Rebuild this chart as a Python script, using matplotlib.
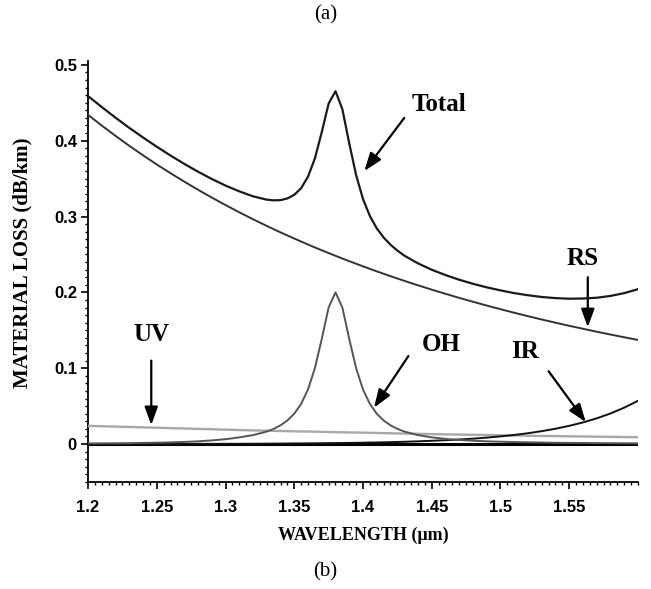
import matplotlib
matplotlib.use("Agg")
import matplotlib.pyplot as plt
from matplotlib.ticker import MultipleLocator, FixedLocator

# ---- data ----
wavelength = [1.20, 1.21, 1.22, 1.23, 1.24, 1.25, 1.26, 1.27, 1.28, 1.29, 1.30,
              1.31, 1.32, 1.33, 1.335, 1.34, 1.345, 1.35, 1.355, 1.36, 1.365,
              1.37, 1.375, 1.38, 1.385, 1.39, 1.395, 1.40, 1.405, 1.41, 1.415,
              1.42, 1.425, 1.43, 1.44, 1.45, 1.46, 1.47, 1.48, 1.49, 1.50, 1.51,
              1.52, 1.53, 1.54, 1.55, 1.56, 1.57, 1.58, 1.59, 1.60]
rs_loss = [0.4340, 0.4199, 0.4063, 0.3932, 0.3807, 0.3686, 0.3571, 0.3460, 0.3353,
           0.3250, 0.3151, 0.3056, 0.2964, 0.2876, 0.2833, 0.2791, 0.2750, 0.2710,
           0.2670, 0.2631, 0.2592, 0.2555, 0.2518, 0.2482, 0.2446, 0.2411, 0.2377,
           0.2343, 0.2310, 0.2277, 0.2245, 0.2214, 0.2183, 0.2152, 0.2093, 0.2036,
           0.1981, 0.1927, 0.1876, 0.1826, 0.1778, 0.1731, 0.1686, 0.1642, 0.1600,
           0.1559, 0.1520, 0.1481, 0.1444, 0.1408, 0.1373]
oh_loss = [0.0008, 0.0009, 0.0010, 0.0012, 0.0015, 0.0018, 0.0022, 0.0028, 0.0036,
           0.0048, 0.0064, 0.0088, 0.0118, 0.0165, 0.0200, 0.0247, 0.0311, 0.0400,
           0.0529, 0.0720, 0.1000, 0.1385, 0.1800, 0.2000, 0.1800, 0.1385, 0.1000,
           0.0720, 0.0529, 0.0400, 0.0311, 0.0247, 0.0200, 0.0165, 0.0118, 0.0088,
           0.0068, 0.0054, 0.0044, 0.0036, 0.0031, 0.0026, 0.0023, 0.0020, 0.0017,
           0.0015, 0.0014, 0.0012, 0.0011, 0.0010, 0.0009]
ir_loss = [0.0, 0.0, 0.0, 0.0, 0.0, 0.0001, 0.0001, 0.0001, 0.0002, 0.0002, 0.0003,
           0.0003, 0.0004, 0.0005, 0.0006, 0.0006, 0.0007, 0.0008, 0.0008, 0.0009,
           0.0010, 0.0011, 0.0012, 0.0013, 0.0014, 0.0015, 0.0016, 0.0018, 0.0020,
           0.0021, 0.0023, 0.0025, 0.0028, 0.0030, 0.0036, 0.0043, 0.0051, 0.0060,
           0.0071, 0.0085, 0.0101, 0.0120, 0.0143, 0.0170, 0.0202, 0.0240, 0.0285,
           0.0339, 0.0403, 0.0480, 0.0570]
uv_loss = [0.0240, 0.0235, 0.0230, 0.0225, 0.0220, 0.0215, 0.0210, 0.0205, 0.0200,
           0.0195, 0.0190, 0.0185, 0.0180, 0.0176, 0.0174, 0.0172, 0.0170, 0.0168,
           0.0166, 0.0165, 0.0163, 0.0161, 0.0159, 0.0157, 0.0155, 0.0153, 0.0152,
           0.0150, 0.0148, 0.0146, 0.0144, 0.0142, 0.0140, 0.0138, 0.0135, 0.0131,
           0.0128, 0.0125, 0.0122, 0.0119, 0.0116, 0.0113, 0.0110, 0.0107, 0.0105,
           0.0102, 0.0100, 0.0097, 0.0095, 0.0092, 0.0090]
total_loss = [0.4588, 0.4443, 0.4303, 0.4169, 0.4042, 0.3920, 0.3804, 0.3694,
              0.3591, 0.3495, 0.3408, 0.3332, 0.3266, 0.3222, 0.3213, 0.3216,
              0.3238, 0.3286, 0.3373, 0.3525, 0.3765, 0.4112, 0.4489, 0.4652,
              0.4415, 0.3964, 0.3545, 0.3231, 0.3007, 0.2844, 0.2723, 0.2628,
              0.2551, 0.2485, 0.2382, 0.2298, 0.2228, 0.2166, 0.2113, 0.2066,
              0.2026, 0.1990, 0.1962, 0.1939, 0.1924, 0.1916, 0.1919, 0.1929,
              0.1953, 0.1990, 0.2042]

x_ticks = [1.2, 1.25, 1.3, 1.35, 1.4, 1.45, 1.5, 1.55]
x_tick_labels = ["1.2", "1.25", "1.3", "1.35", "1.4", "1.45", "1.5", "1.55"]
y_ticks = [0, 0.1, 0.2, 0.3, 0.4, 0.5]
y_tick_labels = ["0", "0.1", "0.2", "0.3", "0.4", "0.5"]

# annotations: label, text position, arrow start, arrow tip (data coords)
annotations = [
    ("Total", (1.455, 0.448), (1.430, 0.430), (1.401, 0.360)),
    ("RS", (1.560, 0.245), (1.5635, 0.220), (1.5635, 0.154)),
    ("OH", (1.457, 0.131), (1.433, 0.116), (1.408, 0.048)),
    ("IR", (1.518, 0.122), (1.535, 0.096), (1.562, 0.029)),
    ("UV", (1.246, 0.145), (1.246, 0.110), (1.246, 0.025)),
]

# ---- figure ----
fig = plt.figure(figsize=(6.51, 5.89), dpi=100)
ax = fig.add_axes([0.1352, 0.1817, 0.8448, 0.7147])

serif = ["Liberation Serif", "DejaVu Serif"]
sans = ["Liberation Sans", "DejaVu Sans"]

ax.axhline(0, color="black", lw=2.2, zorder=2)
ax.plot(wavelength, uv_loss, color="#a8a8a8", lw=1.7, zorder=3)
ax.plot(wavelength, ir_loss, color="#111111", lw=1.4, zorder=3)
ax.plot(wavelength, oh_loss, color="#555555", lw=1.4, zorder=4)
ax.plot(wavelength, rs_loss, color="#333333", lw=1.4, zorder=4)
ax.plot(wavelength, total_loss, color="#1a1a1a", lw=1.6, zorder=5)

for label, tpos, start, tip in annotations:
    ax.text(tpos[0], tpos[1], label, fontfamily=serif, fontweight="bold",
            fontsize=18, ha="center", va="center")
    ax.annotate("", xy=tip, xytext=start,
                arrowprops=dict(arrowstyle="-|>,head_length=1.1,head_width=0.4",
                                color="black", lw=1.6, shrinkA=0, shrinkB=0))

ax.set_xlim(1.2, 1.6)
ax.set_ylim(-0.05, 0.505)

ax.xaxis.set_major_locator(FixedLocator(x_ticks))
ax.set_xticklabels(x_tick_labels)
ax.xaxis.set_minor_locator(MultipleLocator(0.005))
ax.yaxis.set_major_locator(FixedLocator(y_ticks))
ax.set_yticklabels(y_tick_labels)
ax.yaxis.set_minor_locator(MultipleLocator(0.01))

for lab in ax.get_xticklabels() + ax.get_yticklabels():
    lab.set_fontfamily(sans)
    lab.set_fontweight("bold")
    lab.set_fontsize(12)

ax.tick_params(axis="both", which="major", direction="out", length=5, width=1.2)
ax.tick_params(axis="x", which="major", pad=8)
ax.tick_params(axis="y", which="major", pad=3)
ax.tick_params(axis="both", which="minor", direction="out", length=2.5, width=1.0)

for s in ["top", "right"]:
    ax.spines[s].set_visible(False)
for s in ["left", "bottom"]:
    ax.spines[s].set_linewidth(1.3)

ax.set_xlabel("WAVELENGTH (\u03bcm)", fontfamily=serif, fontweight="bold",
              fontsize=13)
ax.xaxis.set_label_coords(0.5, (482 - 527) / 421.0)
ax.set_ylabel("MATERIAL LOSS (dB/km)", fontfamily=serif, fontweight="bold",
              fontsize=15)
ax.yaxis.set_label_coords((32 - 88) / 550.0, 0.52)

fig.text(0.5, 1 - 15 / 589, "(a)", fontfamily=serif, fontsize=15,
         ha="center", va="center")
fig.text(0.5, 1 - 572 / 589, "(b)", fontfamily=serif, fontsize=15,
         ha="center", va="center")

fig.savefig("out.png", dpi=100)
